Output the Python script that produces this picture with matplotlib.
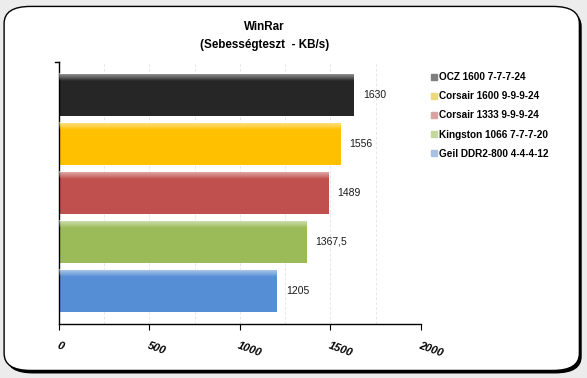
import matplotlib
matplotlib.use("Agg")
import matplotlib.pyplot as plt
from matplotlib.patches import FancyBboxPatch
from matplotlib.lines import Line2D
import numpy as np

plt.rcParams['font.family'] = ['Liberation Sans', 'DejaVu Sans']

labels = ["OCZ 1600 7-7-7-24", "Corsair 1600 9-9-9-24", "Corsair 1333 9-9-9-24",
          "Kingston 1066 7-7-7-20", "Geil DDR2-800 4-4-4-12"]
values = [1630, 1556, 1489, 1367.5, 1205]
value_text = ["1630", "1556", "1489", "1367,5", "1205"]
bar_colors = ["#262626", "#ffc000", "#c0504d", "#9bbb59", "#558ed5"]
legend_colors = ["#7f7f7f", "#ecd97c", "#d9a3a2", "#c4d79f", "#a8c1e3"]
xticks = [0, 500, 1000, 1500, 2000]

fig = plt.figure(figsize=(5.87, 3.78), dpi=100)
fig.patch.set_facecolor("#ececec")

# rounded frame with a heavier shadow on bottom/right
shadow = FancyBboxPatch((0.011, 0.012), 0.98, 0.963, boxstyle="round,pad=0,rounding_size=0.045",
                        transform=fig.transFigure, facecolor="black", edgecolor="black", lw=0,
                        zorder=-2)
fig.patches.append(shadow)
frame = FancyBboxPatch((0.007, 0.02), 0.98, 0.963, boxstyle="round,pad=0,rounding_size=0.045",
                       transform=fig.transFigure, facecolor="white", edgecolor="black", lw=1.0,
                       zorder=-1)
fig.patches.append(frame)

ax = fig.add_axes([0.1005, 0.143, 0.6167, 0.693])
ax.set_facecolor("none")

ypos = np.arange(len(values))
bars = ax.barh(ypos, values, height=0.86, color=bar_colors, zorder=2)

# light sheen on the top edge of each bar
grad = np.linspace(0, 1, 50).reshape(-1, 1)
for b in bars:
    x0, y0 = b.get_x(), b.get_y()
    w, h = b.get_width(), b.get_height()
    ax.imshow(np.dstack([np.ones_like(grad)] * 3 + [0.55 * np.clip(1 - grad / 0.18, 0, 1)]),
              extent=(x0, x0 + w, y0 + h, y0), aspect="auto", zorder=3, interpolation="bilinear")

for b, t in zip(bars, value_text):
    ax.text(b.get_width() + 50, b.get_y() + b.get_height() / 2, t,
            va="center", ha="left", fontsize=7.5, color="#1a1a1a")

ax.set_xlim(0, 2000)
ax.set_ylim(4.68, -0.68)
ax.set_xticks(xticks)
ax.set_xticks(np.arange(0, 2001, 250), minor=True)
ax.set_xticklabels([str(v) for v in xticks], rotation=-20, ha="left", va="top",
                   rotation_mode="anchor", fontsize=8, fontweight="bold", fontstyle="italic")
ax.tick_params(axis="x", which="major", length=4, width=0.8, pad=8)
ax.tick_params(axis="x", which="minor", length=0)
ax.set_yticks([])
ax.grid(axis="x", which="both", color="#e6e6ee", linestyle=(0, (3, 2)), linewidth=0.7, zorder=0)
for s in ["top", "right"]:
    ax.spines[s].set_visible(False)
ax.spines["left"].set_linewidth(1.0)
ax.spines["bottom"].set_linewidth(1.0)
ax.plot([-20, 0], [-0.68, -0.68], color="black", lw=1.0, clip_on=False)

fig.text(0.45, 0.929, "WinRar", ha="center", va="center", fontsize=8.4, fontweight="bold")
fig.text(0.45, 0.882, "(Sebességteszt  - KB/s)", ha="center", va="center", fontsize=8.4, fontweight="bold")

handles = [Line2D([], [], marker="s", linestyle="none", markersize=4, color=c) for c in legend_colors]
fig.legend(handles, labels, loc="upper left", bbox_to_anchor=(0.727, 0.82), frameon=False,
           prop={"size": 7.2, "weight": "bold"}, handlelength=0.6, handletextpad=0.2,
           labelspacing=0.92, borderaxespad=0)

fig.savefig("out.png", dpi=100, facecolor=fig.get_facecolor())
